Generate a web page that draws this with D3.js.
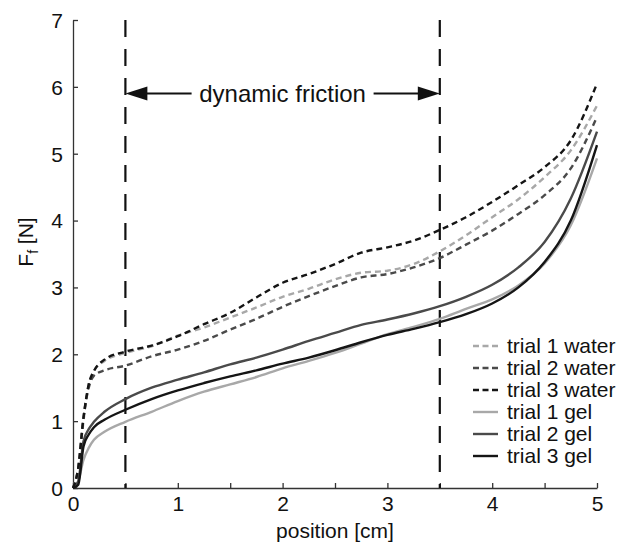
<!DOCTYPE html>
<html>
<head>
<meta charset="utf-8">
<script src="https://cdn.jsdelivr.net/npm/d3@7"></script>
<style>
  body { margin: 0; background: #fff; }
  text { font-family: "Liberation Sans", Arial, sans-serif; fill: #111; }
</style>
</head>
<body>
<div id="container"></div>
<script>
// positions along the track [cm]
var position = [0, 0.05, 0.1, 0.15, 0.2, 0.3, 0.5, 0.75, 1, 1.25, 1.5, 1.75, 2, 2.25, 2.5, 2.75, 3, 3.25, 3.5, 3.75, 4, 4.25, 4.5, 4.75, 5];

// friction force [N]
var water1 = [0, 0.3, 1.0, 1.55, 1.75, 1.9, 2.02, 2.12, 2.28, 2.4, 2.55, 2.7, 2.86, 2.98, 3.12, 3.22, 3.25, 3.35, 3.54, 3.78, 4.05, 4.32, 4.65, 5.05, 5.72];
var water2 = [0, 0.3, 1.05, 1.5, 1.68, 1.76, 1.83, 1.97, 2.07, 2.2, 2.37, 2.53, 2.71, 2.87, 3.02, 3.15, 3.2, 3.3, 3.44, 3.64, 3.85, 4.1, 4.38, 4.78, 5.55];
var water3 = [0, 0.3, 1.05, 1.55, 1.75, 1.92, 2.04, 2.13, 2.27, 2.45, 2.62, 2.85, 3.07, 3.2, 3.35, 3.52, 3.6, 3.7, 3.86, 4.05, 4.28, 4.53, 4.8, 5.2, 6.05];
var gel1 = [0, 0.1, 0.42, 0.6, 0.72, 0.84, 0.99, 1.14, 1.3, 1.44, 1.55, 1.66, 1.79, 1.9, 2.02, 2.16, 2.3, 2.41, 2.53, 2.68, 2.82, 3.03, 3.36, 3.93, 4.93];
var gel2 = [0, 0.1, 0.7, 0.88, 0.99, 1.14, 1.33, 1.5, 1.62, 1.73, 1.85, 1.95, 2.07, 2.2, 2.32, 2.44, 2.52, 2.61, 2.72, 2.86, 3.04, 3.3, 3.68, 4.33, 5.33];
var gel3 = [0, 0.05, 0.62, 0.8, 0.91, 1.02, 1.17, 1.33, 1.46, 1.57, 1.67, 1.76, 1.86, 1.95, 2.06, 2.18, 2.29, 2.38, 2.48, 2.6, 2.76, 3.0, 3.38, 4.0, 5.13];

var seriesNames = ["trial 1 water", "trial 2 water", "trial 3 water", "trial 1 gel", "trial 2 gel", "trial 3 gel"];
var seriesValues = [water1, water2, water3, gel1, gel2, gel3];

var xTicks = [0, 0.5, 1, 1.5, 2, 2.5, 3, 3.5, 4, 4.5, 5];
var yTicks = [0, 1, 2, 3, 4, 5, 6, 7];
var dynamicRange = [0.5, 3.5];

var colors = ["#a8a8a8", "#4a4a4a", "#151515", "#a8a8a8", "#4a4a4a", "#151515"];
var dashes = ["6,4", "6,4", "6,4", null, null, null];

var margin = { top: 20, right: 27, bottom: 63, left: 73 },
    width = 624 - margin.left - margin.right,
    height = 551 - margin.top - margin.bottom;

var svg = d3.select("div#container")
    .append("svg")
    .attr("width", 624)
    .attr("height", 551);

var g = svg.append("g")
    .attr("transform", "translate(" + margin.left + "," + margin.top + ")");

var x = d3.scaleLinear().domain([0, 5]).range([0, width]);
var y = d3.scaleLinear().domain([0, 7]).range([height, 0]);

// axes, ticks pointing inward
var xAxis = g.append("g")
    .attr("transform", "translate(0," + height + ")")
    .call(d3.axisBottom(x)
        .tickValues(xTicks)
        .tickSizeInner(-5)
        .tickSizeOuter(0)
        .tickFormat(function (d) { return d % 1 === 0 ? d : ""; }));

var yAxis = g.append("g")
    .call(d3.axisLeft(y)
        .tickValues(yTicks)
        .tickSizeInner(-5)
        .tickSizeOuter(0)
        .tickPadding(10)
        .tickFormat(d3.format("d")));

[xAxis, yAxis].forEach(function (a) {
    a.selectAll("path, line").attr("stroke", "#333").attr("stroke-width", 1.3);
    a.selectAll("text").style("font-size", "21px").attr("fill", "#111");
});
xAxis.selectAll("text").attr("y", 8).attr("dy", "0.71em");
yAxis.selectAll("text").attr("dy", "0.35em");

// axis labels
svg.append("text")
    .attr("x", margin.left + width / 2)
    .attr("y", 538)
    .attr("text-anchor", "middle")
    .style("font-size", "21px")
    .text("position [cm]");

var yl = svg.append("text")
    .attr("transform", "translate(33,242) rotate(-90)")
    .attr("text-anchor", "middle")
    .style("font-size", "21px");
yl.append("tspan").text("F");
yl.append("tspan").attr("dy", 5).style("font-size", "14px").text("f");
yl.append("tspan").attr("dy", -5).text(" [N]");

// dynamic friction boundaries
g.selectAll(".bound")
    .data(dynamicRange)
    .enter()
    .append("line")
    .attr("x1", function (d) { return x(d); })
    .attr("x2", function (d) { return x(d); })
    .attr("y1", y(7))
    .attr("y2", y(0))
    .attr("stroke", "#111")
    .attr("stroke-width", 2.2)
    .attr("stroke-dasharray", "17,12");

// arrow annotation
var arrowY = y(5.9);
var labelX = x((dynamicRange[0] + dynamicRange[1]) / 2);
g.append("text")
    .attr("x", labelX)
    .attr("y", arrowY)
    .attr("dy", "0.35em")
    .attr("text-anchor", "middle")
    .style("font-size", "24px")
    .text("dynamic friction");

var halfText = 91;
g.append("line")
    .attr("x1", x(dynamicRange[0]) + 18).attr("x2", labelX - halfText)
    .attr("y1", arrowY).attr("y2", arrowY)
    .attr("stroke", "#111").attr("stroke-width", 2);
g.append("line")
    .attr("x1", labelX + halfText).attr("x2", x(dynamicRange[1]) - 18)
    .attr("y1", arrowY).attr("y2", arrowY)
    .attr("stroke", "#111").attr("stroke-width", 2);
g.append("path")
    .attr("d", "M" + x(dynamicRange[0]) + "," + arrowY + "l22,-7l0,14z")
    .attr("fill", "#111");
g.append("path")
    .attr("d", "M" + x(dynamicRange[1]) + "," + arrowY + "l-22,-7l0,14z")
    .attr("fill", "#111");

// curves
var line = d3.line()
    .x(function (d) { return x(d[0]); })
    .y(function (d) { return y(d[1]); })
    .curve(d3.curveMonotoneX);

// draw light first so dark lines sit on top
var order = [3, 0, 4, 1, 5, 2];
order.forEach(function (i) {
    var pts = position.map(function (p, k) { return [p, seriesValues[i][k]]; });
    g.append("path")
        .datum(pts)
        .attr("d", line)
        .attr("fill", "none")
        .attr("stroke", colors[i])
        .attr("stroke-width", 2.4)
        .attr("stroke-dasharray", dashes[i]);
});

// legend
var legend = svg.append("g");
seriesNames.forEach(function (name, i) {
    var ly = 346 + i * 22;
    legend.append("line")
        .attr("x1", 473).attr("x2", 498)
        .attr("y1", ly).attr("y2", ly)
        .attr("stroke", colors[i])
        .attr("stroke-width", 2.4)
        .attr("stroke-dasharray", dashes[i] ? "6,3.5" : null);
    legend.append("text")
        .attr("x", 507)
        .attr("y", ly)
        .attr("dy", "0.35em")
        .style("font-size", "21px")
        .text(name);
});
</script>
</body>
</html>
